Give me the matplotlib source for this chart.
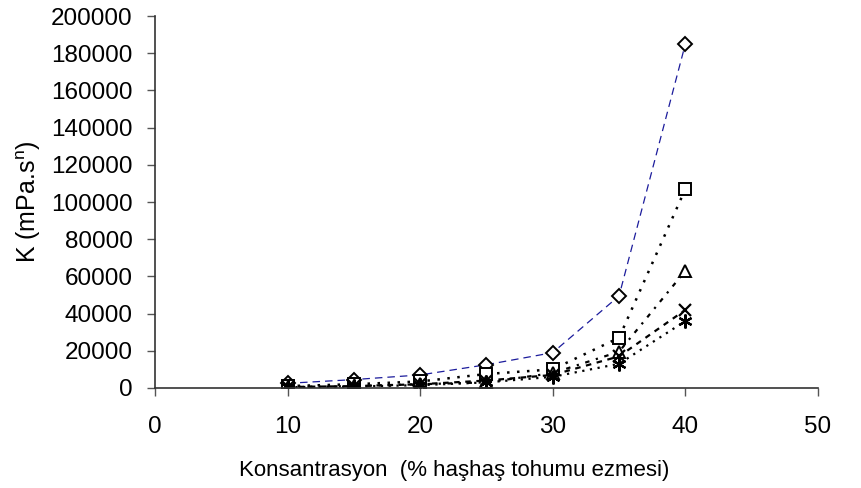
import matplotlib.pyplot as plt

plt.rcParams['font.family'] = ['Liberation Sans', 'DejaVu Sans']

konsantrasyon = [10, 15, 20, 25, 30, 35, 40]

k_diamond = [2500, 4500, 7000, 12500, 19000, 49500, 185000]
k_square = [1000, 2000, 3500, 7500, 10000, 27000, 107000]
k_triangle = [500, 1000, 2000, 3000, 8000, 19500, 63000]
k_cross = [500, 1000, 2000, 4000, 7000, 17000, 42000]
k_star = [400, 800, 1500, 3000, 6000, 13000, 36000]

fig = plt.figure(figsize=(8.61, 4.88), dpi=100)
ax = fig.add_axes([0.18, 0.205, 0.77, 0.762])

ax.plot(konsantrasyon, k_diamond, color='#1c1c9c', lw=0.9, ls=(0, (6, 4)),
        marker='D', ms=7.5, mfc='white', mec='black', mew=1.4)
ax.plot(konsantrasyon, k_square, color='black', lw=1.8, ls=(0, (1, 3)),
        marker='s', ms=8, mfc='white', mec='black', mew=1.4)
ax.plot(konsantrasyon, k_triangle, color='black', lw=1.6, ls=(0, (2, 3, 1, 3)),
        marker='^', ms=9, mfc='white', mec='black', mew=1.4)
ax.plot(konsantrasyon, k_cross, color='black', lw=1.6, ls=(0, (2.5, 2.5)),
        marker='x', ms=9, mec='black', mew=1.6)
ax.plot(konsantrasyon, k_star, color='black', lw=1.6, ls=(0, (1, 2.5)),
        marker=(6, 2, 0), ms=10, mec='black', mew=1.6)

ax.set_xlim(0, 50)
ax.set_ylim(0, 200000)
ax.set_xticks(range(0, 51, 10))
ax.set_yticks(range(0, 200001, 20000))

for side in ['top', 'right']:
    ax.spines[side].set_visible(False)
for side in ['left', 'bottom']:
    ax.spines[side].set_color('#333333')
    ax.spines[side].set_linewidth(1.2)

ax.tick_params(direction='out', length=6, width=1, color='#555555',
               labelsize=17.5)
ax.tick_params(axis='x', pad=14)
ax.tick_params(axis='y', pad=10)

ax.set_xlabel('Konsantrasyon  (% haşhaş tohumu ezmesi)', fontsize=16)
ax.xaxis.set_label_coords(0.452, -0.195)
ax.set_ylabel('K (mPa.s$^\\mathregular{n}$)', fontsize=18, labelpad=6)

fig.savefig('out.png', dpi=100)
